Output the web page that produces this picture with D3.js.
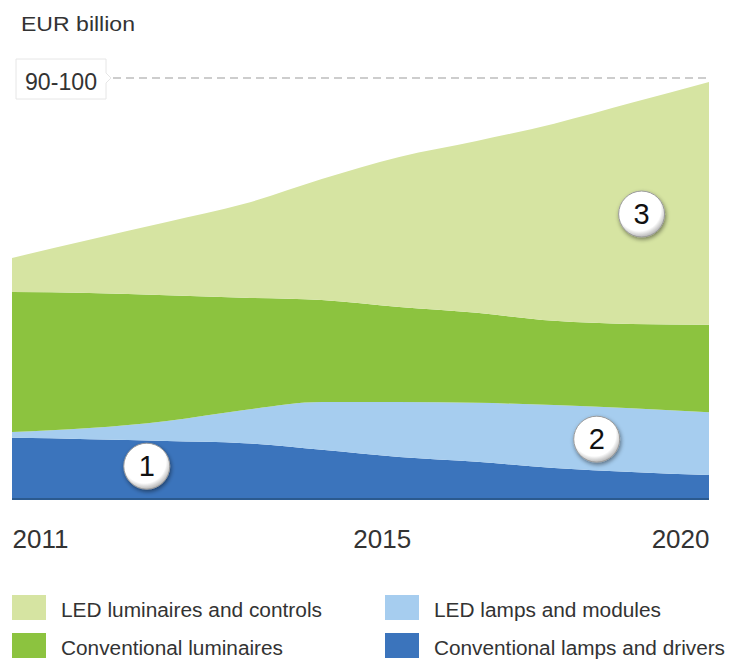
<!DOCTYPE html>
<html>
<head>
<meta charset="utf-8">
<script src="https://cdn.jsdelivr.net/npm/d3@7"></script>
<style>
  body { margin: 0; background: #fff; }
  svg text { font-family: "Liberation Sans", Arial, sans-serif; fill: #333; }
</style>
</head>
<body>
<div id="chart"></div>
<script>
// values, EUR billion
var years = [2011, 2012, 2013, 2014, 2015, 2016, 2017, 2018, 2019, 2020];
var conv_lamps = [13.8, 13.5, 13.1, 12.6, 11.1, 9.5, 8.4, 7.0, 6.1, 5.4];
var led_lamps = [1.3, 2.5, 4.5, 7.5, 10.8, 12.4, 13.3, 14.2, 14.4, 14.2];
var conv_luminaires = [31.6, 30.5, 28.4, 25.3, 23.0, 21.4, 20.3, 19.0, 19.0, 19.7];
var led_luminaires = [7.7, 12.0, 16.5, 21.2, 27.3, 33.9, 38.8, 44.5, 49.9, 54.8];

var series_keys = ["conv_lamps", "led_lamps", "conv_luminaires", "led_luminaires"];
var series_names = {
    conv_lamps: "Conventional lamps and drivers",
    led_lamps: "LED lamps and modules",
    conv_luminaires: "Conventional luminaires",
    led_luminaires: "LED luminaires and controls"
};
var series_colors = {
    conv_lamps: "#3b74bc",
    led_lamps: "#a6cdef",
    conv_luminaires: "#8cc33f",
    led_luminaires: "#d6e4a2"
};
var tick_years = [2011, 2015, 2020];
var top_label = "90-100";
var top_value = 95;
// numbered badges: [label, year, value]
var badges = [["1", 2012.74, 7.4], ["2", 2018.55, 13.5], ["3", 2019.13, 64.3]];

var width = 730, height = 659;
var svg = d3.select("#chart").append("svg")
    .attr("width", width)
    .attr("height", height);

var x = d3.scaleLinear().domain([2011, 2020]).range([12, 709]);
var y = d3.scaleLinear().domain([0, 95]).range([499, 78]);

// table for the stack
var table = years.map(function(yr, i){
    return {
        year: yr,
        conv_lamps: conv_lamps[i],
        led_lamps: led_lamps[i],
        conv_luminaires: conv_luminaires[i],
        led_luminaires: led_luminaires[i]
    };
});
var stacked = d3.stack().keys(series_keys)(table);

var area = d3.area()
    .x(function(d) { return x(d.data.year); })
    .y0(function(d) { return y(d[0]); })
    .y1(function(d) { return y(d[1]); })
    .curve(d3.curveMonotoneX);

svg.append("text")
    .attr("x", 21)
    .attr("y", 31)
    .attr("font-size", "21px")
    .attr("textLength", 114)
    .attr("lengthAdjust", "spacingAndGlyphs")
    .text("EUR billion");

// dashed reference line
svg.append("line")
    .attr("x1", 113)
    .attr("x2", x(2020))
    .attr("y1", y(top_value))
    .attr("y2", y(top_value))
    .style("stroke", "#bdbdbd")
    .style("stroke-width", "1.5px")
    .style("stroke-dasharray", "8,5");

// faint label box
svg.append("path")
    .attr("d", "M16,59 H106 V73 L111,78 L106,83 V99 H16 Z")
    .style("fill", "#fff")
    .style("stroke", "#e6e6e6")
    .style("stroke-width", "1px");

svg.append("text")
    .attr("x", 25)
    .attr("y", 90)
    .attr("font-size", "23px")
    .attr("textLength", 72)
    .attr("lengthAdjust", "spacingAndGlyphs")
    .text(top_label);

svg.selectAll(".layer")
    .data(stacked)
    .enter()
    .append("path")
        .attr("class", "layer")
        .attr("d", area)
        .style("fill", function(d) { return series_colors[d.key]; });

// dark base line
svg.append("line")
    .attr("x1", x(2011))
    .attr("x2", x(2020))
    .attr("y1", y(0))
    .attr("y2", y(0))
    .style("stroke", "#2b5a8f")
    .style("stroke-width", "2px");

// x axis labels
var x_axis = svg.append("g")
    .attr("transform", "translate(0," + 520 + ")")
    .call(d3.axisBottom(x).tickValues(tick_years).tickFormat(d3.format("d")).tickSize(0));
x_axis.select(".domain").remove();
x_axis.selectAll("text")
    .attr("y", 0)
    .attr("dy", "28px")
    .style("font-size", "26px")
    .style("font-family", "'Liberation Sans', Arial, sans-serif")
    .style("fill", "#333")
    .attr("text-anchor", function(d) {
        if (d == 2011) return "start";
        if (d == 2020) return "end";
        return "middle";
    })
    .attr("dx", function(d) { return d == 2015 ? 60 : 0; });

// badges
var defs = svg.append("defs");
var grad = defs.append("radialGradient").attr("id", "badge_grad")
    .attr("cx", "45%").attr("cy", "40%").attr("r", "60%");
grad.append("stop").attr("offset", "0%").attr("stop-color", "#ffffff");
grad.append("stop").attr("offset", "78%").attr("stop-color", "#ffffff");
grad.append("stop").attr("offset", "100%").attr("stop-color", "#b8b8b8");
var shadow = defs.append("filter").attr("id", "badge_shadow")
    .attr("x", "-40%").attr("y", "-40%").attr("width", "180%").attr("height", "180%");
shadow.append("feDropShadow")
    .attr("dx", 1).attr("dy", 2).attr("stdDeviation", 2)
    .attr("flood-color", "#000").attr("flood-opacity", 0.45);

var badge_g = svg.selectAll(".badge")
    .data(badges)
    .enter()
    .append("g")
        .attr("class", "badge")
        .attr("transform", function(d) { return "translate(" + x(d[1]) + "," + y(d[2]) + ")"; });
badge_g.append("circle")
    .attr("r", 23)
    .style("fill", "url(#badge_grad)")
    .style("stroke", "#9a9a9a")
    .style("stroke-width", "1px")
    .attr("filter", "url(#badge_shadow)");
badge_g.append("text")
    .attr("text-anchor", "middle")
    .attr("dy", "10px")
    .attr("font-size", "29px")
    .style("fill", "#111")
    .text(function(d) { return d[0]; });

// legend, two columns
var legend_items = [
    {key: "led_luminaires", col: 0, row: 0},
    {key: "conv_luminaires", col: 0, row: 1},
    {key: "led_lamps", col: 1, row: 0},
    {key: "conv_lamps", col: 1, row: 1}
];
var legend_text_len = {
    led_luminaires: 261,
    conv_luminaires: 222,
    led_lamps: 227,
    conv_lamps: 291
};
var col_x = [12, 385];
var legend = svg.selectAll(".legend_item")
    .data(legend_items)
    .enter()
    .append("g")
        .attr("class", "legend_item")
        .attr("transform", function(d) { return "translate(" + col_x[d.col] + "," + (595 + d.row * 38) + ")"; });
legend.append("rect")
    .attr("width", 34)
    .attr("height", 25)
    .style("fill", function(d) { return series_colors[d.key]; });
legend.append("text")
    .attr("x", 49)
    .attr("y", 22)
    .attr("font-size", "20px")
    .attr("textLength", function(d) { return legend_text_len[d.key]; })
    .attr("lengthAdjust", "spacingAndGlyphs")
    .text(function(d) { return series_names[d.key]; });
</script>
</body>
</html>
